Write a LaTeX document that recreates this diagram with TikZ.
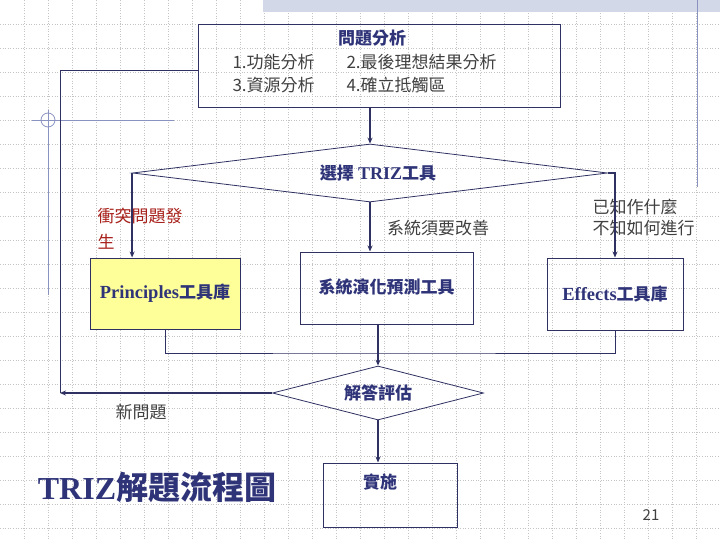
\documentclass[tikz,border=0pt]{standalone}
\usepackage{fontspec}
\setmainfont{Liberation Serif}
\newfontfamily\cjk{Noto Sans CJK TC}
\usetikzlibrary{shapes.geometric,arrows.meta}
\definecolor{linec}{HTML}{2E3162}
\definecolor{textc}{HTML}{2F3479}
\definecolor{labelc}{HTML}{404040}
\definecolor{redc}{HTML}{A8201A}
\definecolor{gridc}{HTML}{C4C4C4}
\definecolor{decoc}{HTML}{8A92C0}
\definecolor{bandc}{HTML}{D3D8E8}
\definecolor{yellowc}{HTML}{FFFF99}
\tikzset{
  box/.style={draw=linec, line width=1pt},
  decision/.style={diamond, draw=linec, line width=0.8pt, inner sep=0pt},
  arr/.style={draw=linec, line width=2pt, -{Stealth[length=6pt,width=5pt]}},
  link/.style={draw=linec, line width=1pt},
  title/.style={text=textc, font=\fontsize{17}{20}\selectfont\bfseries},
  note/.style={text=labelc, font=\fontsize{17}{21}\selectfont\cjk, align=left}
}
\begin{document}
\begin{tikzpicture}[x=1pt,y=-1pt]
\useasboundingbox (0,0) rectangle (720,540);
% background grid and slide decoration
\foreach \gx in {24,48,...,696}
  \draw[gridc, dotted, line width=0.6pt] (\gx,0) -- (\gx,540);
\foreach \gy in {24,48,...,528}
  \draw[gridc, dotted, line width=0.6pt] (0,\gy) -- (720,\gy);
\fill[bandc] (263,0) rectangle (720,12);
\draw[decoc, line width=1pt] (697,0) -- (697,187);
\draw[decoc, line width=0.8pt] (32,120) -- (174,120);
\draw[decoc, line width=0.8pt] (48,110) -- (48,295);
\draw[decoc, line width=0.8pt] (48,120) circle (7pt);

% problem analysis
\node[box, minimum width=362pt, minimum height=83pt] (ana) at (379,66) {};
\node[title] (anat) at (372,38) {\cjk 問題分析};
\node[note, anchor=west] (a1) at (229,62) {1.功能分析};
\node[note, anchor=west] (a2) at (343,62) {2.最後理想結果分析};
\node[note, anchor=west] (a3) at (229,85) {3.資源分析};
\node[note, anchor=west] (a4) at (343,85) {4.確立抵觸區};

% choose the tool
\node[decision, title, aspect=8.2, minimum width=475pt, minimum height=58pt] (sel) at (370,173) {\hspace*{16pt}{\cjk 選擇} {\fontsize{18}{20}\selectfont TRIZ}{\cjk 工具}};
\node[box, title, fill=yellowc, minimum width=150pt, minimum height=71pt] (prin) at (165,293.5) {{\fontsize{18.5}{20}\selectfont Principles}{\cjk 工具庫}};
\node[box, title, minimum width=173pt, minimum height=72pt] (sys) at (386.5,288) {\raisebox{3pt}{\cjk 系統演化預測工具}};
\node[box, title, minimum width=136pt, minimum height=72pt] (eff) at (615,294) {\raisebox{-3pt}{{\fontsize{18.5}{20}\selectfont Effects}{\cjk 工具庫}}};
\node[note, text=redc, anchor=north west, font=\fontsize{17}{26}\selectfont\cjk] (conf) at (94,205) {衝突問題發\\生};
\node[note] (imp) at (438,228) {系統須要改善};
\node[note, anchor=north west] (know) at (589,196) {已知作什麼\\不知如何進行};

% evaluation
\node[decision, title, aspect=3.9, minimum width=211pt, minimum height=54pt] (eva) at (378,393) {\cjk 解答評估};
\node[box, minimum width=134pt, minimum height=64pt] (impl) at (390,495) {};
\node[title] (implt) at (380,482) {\cjk 實施};
\node[note] (newp) at (141,412) {新問題};

\node[text=textc, font=\fontsize{32}{36}\selectfont\bfseries] (head) at (157,487) {TRIZ{\cjk 解題流程圖}};
\node[text=labelc, font=\fontsize{15}{17}\selectfont\cjk] (pg) at (651,515) {21};

% connectors
\draw[arr] (sel.north |- ana.south) -- (sel.north);
\draw[arr] (sel.west) -- (sel.west |- prin.north);
\draw[arr] (sel.south) -- (sel.south |- sys.north);
\draw[arr] (sel.east) -| (eff.north);
\coordinate (coll) at (378,353);
\draw[link] (prin.south) |- (coll) -| (eff.south);
\draw[arr] (eva.north |- sys.south) -- (eva.north);
\coordinate (back) at (60,71);
\draw[arr] (eva.west) -- (eva.west -| back);
\draw[link] (eva.west -| back) -- (back) -- (back -| ana.west);
\draw[arr] (eva.south) -- (eva.south |- impl.north);
\end{tikzpicture}
\end{document}
